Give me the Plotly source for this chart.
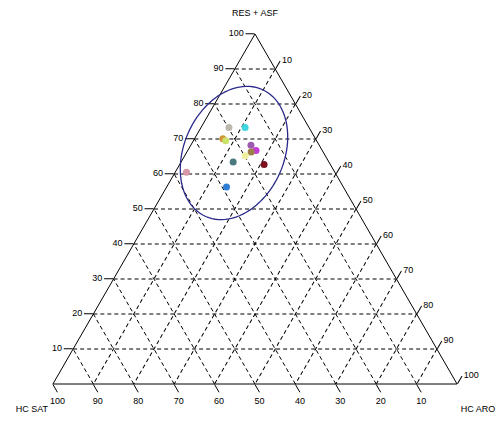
import numpy as np
import plotly.graph_objects as go

# Data: ternary composition (%) of samples
res_asf = [73.3, 73.3, 70.1, 69.5, 68.2, 66.7, 66.3, 65.2, 63.4, 62.7, 56.3, 60.5]
hc_sat = [19.8, 15.8, 22.9, 22.5, 16.9, 16.4, 17.8, 19.8, 23.7, 16.4, 28.9, 36.7]
hc_aro = [6.9, 10.9, 7.0, 8.0, 14.9, 16.9, 15.9, 15.0, 12.9, 20.9, 14.8, 2.8]
colors = ["#bdb8ac", "#3fd6e0", "#d4943a", "#c9e36b", "#9c5bb0", "#c43ad4",
          "#9a8048", "#eef0a0", "#4a7a80", "#7a1020", "#2f7fd8", "#d898a8"]
tick_vals = [10, 20, 30, 40, 50, 60, 70, 80, 90, 100]
tick_text = [str(v) for v in tick_vals]

# page body has an 8px margin, so the figure is drawn 8px smaller
W, H = 496, 416
ML, MR, MT, MB = 43, 45, 26, 40

fig = go.Figure()
fig.add_trace(go.Scatterternary(
    a=res_asf, b=hc_sat, c=hc_aro, mode="markers",
    marker=dict(color=colors, size=7, line=dict(width=0)),
    showlegend=False, hoverinfo="a+b+c"))

# confidence ellipse (decoration), defined in figure pixels then converted to paper
cx, cy, A, B, theta = 226.0, 145.0, 69.5, 50.0, np.deg2rad(24)
t = np.linspace(0, 2 * np.pi, 97)
ux, uy = np.sin(theta), -np.cos(theta)   # major-axis direction (screen)
vx, vy = np.cos(theta), np.sin(theta)
px = cx + A * np.cos(t) * ux + B * np.sin(t) * vx
py = cy + A * np.cos(t) * uy + B * np.sin(t) * vy
pw, ph = W - ML - MR, H - MT - MB
xs = (px - ML) / pw
ys = (H - MB - py) / ph
path = "M " + " L ".join(f"{x:.4f},{y:.4f}" for x, y in zip(xs, ys)) + " Z"
fig.add_shape(type="path", path=path, xref="paper", yref="paper",
              line=dict(color="#2a2a8a", width=1.3))

axis_common = dict(
    tickmode="array", tickvals=tick_vals, ticktext=tick_text,
    ticks="outside", ticklen=9, tickcolor="black", tickwidth=1,
    showline=True, linecolor="black", linewidth=1,
    showgrid=True, gridcolor="black", gridwidth=1, griddash="4px,3px",
    tickfont=dict(family="Liberation Sans", size=9, color="black"),
    min=0,
)

fig.update_layout(
    width=W, height=H,
    margin=dict(l=ML, r=MR, t=MT, b=MB),
    paper_bgcolor="white",
    font=dict(family="Liberation Sans", size=9, color="black"),
    ternary=dict(
        sum=100,
        bgcolor="white",
        domain=dict(x=[0, 1], y=[0, 1]),
        aaxis=dict(title=dict(text="RES + ASF", font=dict(size=9)), **axis_common),
        baxis=dict(title=dict(text="HC SAT", font=dict(size=9)), **axis_common),
        caxis=dict(title=dict(text="HC ARO", font=dict(size=9)), **axis_common),
    ),
)

fig.write_html("out.html")
